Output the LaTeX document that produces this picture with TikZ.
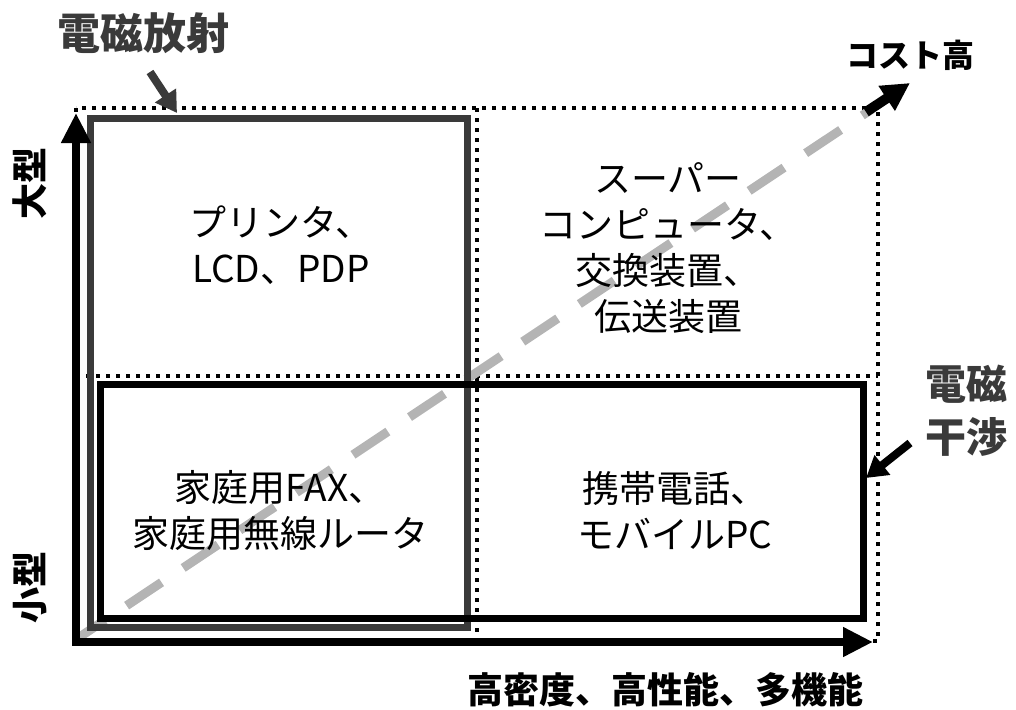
\documentclass[tikz,border=0pt]{standalone}
\usepackage{fontspec}
\setmainfont{Noto Sans CJK JP}
\usetikzlibrary{arrows.meta}
\definecolor{dg}{HTML}{3A3A3A}
\definecolor{lg}{HTML}{B4B4B4}
\tikzset{
  dotline/.style={line width=4pt, dash pattern=on 4pt off 6pt},
  grayrect/.style={draw=dg, line width=7pt},
  blackrect/.style={draw=black, line width=7pt},
  diag/.style={draw=lg, line width=9pt, dash pattern=on 42pt off 26pt, dash phase=9.6pt},
  axis/.style={line width=8pt, {Triangle[width=28pt,length=30pt]}-{Triangle[width=28pt,length=30pt]}},
  lbl/.style={font=\bfseries\fontsize{36}{40}\selectfont, inner sep=0pt},
  biglbl/.style={font=\bfseries\fontsize{43}{53}\selectfont, inner sep=0pt, text=dg, align=center},
  qtext/.style={font=\fontsize{37}{46}\selectfont, align=center, inner sep=0pt},
  pointer/.style={line width=8pt, -{Triangle[width=24pt,length=21pt]}},
}
\begin{document}
\begin{tikzpicture}[x=1pt,y=-1pt]
\useasboundingbox (0,0) rectangle (1016,709);
% dotted grid
\draw[dotline] (76,108) rectangle (878,641);
\draw[dotline] (477,108) -- (477,641);
\draw[dotline] (76,376) -- (878,376);
% dashed diagonal
\draw[diag] (78,638) -- (872,109);
% rectangles
\draw[grayrect] (90,118) rectangle (467,627);
\draw[blackrect] (100,384) rectangle (863,618);
% axes
\draw[axis] (76,113) -- (76,642) -- (873,642);
% cost arrow
\coordinate (costfrom) at (866,112);
\coordinate (costto) at (910,83);
\draw[line width=10pt, -{Triangle[width=28pt,length=28pt]}] (costfrom) -- (costto);
% labels
\node[biglbl] (emr) at (143,33) {電磁放射};
\node[lbl, font=\bfseries\fontsize{32}{36}\selectfont] (cost) at (910,55) {コスト高};
\node[lbl, rotate=90] (large) at (30,183) {大型};
\node[lbl, rotate=90] (small) at (30,587) {小型};
\node[lbl] (xlab) at (665,690) {高密度、高性能、多機能};
\node[biglbl, font=\bfseries\fontsize{41}{53}\selectfont] (emi) at (966,411) {電磁\\干渉};
% pointers
\coordinate (emrfrom) at (150,72);
\coordinate (emrto) at (177,113);
\draw[pointer, draw=dg, fill=dg] (emrfrom) -- (emrto);
\coordinate (emifrom) at (910,443);
\coordinate (emito) at (866,478);
\draw[pointer] (emifrom) -- (emito);
% quadrant texts
\node[qtext] (q1) at (281,245) {プリンタ、\\LCD、PDP};
\node[qtext] (q2) at (668,248) {スーパー\\コンピュータ、\\交換装置、\\伝送装置};
\node[qtext] (q3) at (280,511) {家庭用FAX、\\家庭用無線ルータ};
\node[qtext] (q4) at (675,511) {携帯電話、\\モバイルPC};
\end{tikzpicture}
\end{document}
